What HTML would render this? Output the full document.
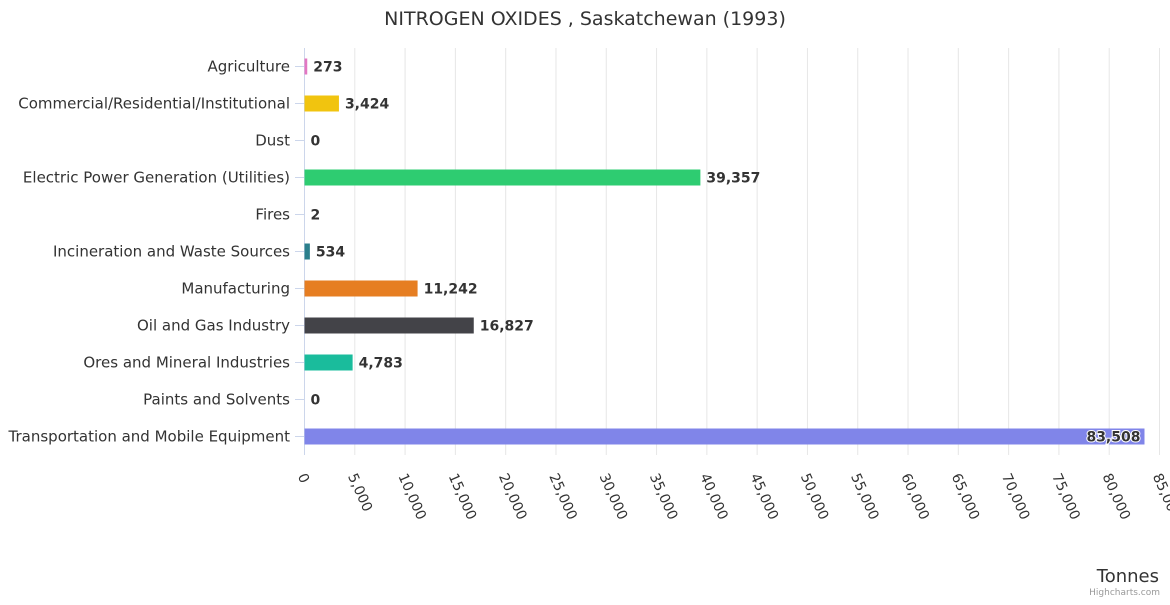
<!DOCTYPE html>
<html><head><meta charset="utf-8"><style>
body{margin:0;background:#fff;font-family:"Liberation Sans","DejaVu Sans",sans-serif}
svg text{font-family:"DejaVu Sans","Liberation Sans",sans-serif}
</style></head><body>
<svg id="c" width="1170" height="600">
<rect width="1170" height="600" fill="#fff"/>
<text x="585" y="25" text-anchor="middle" font-size="19" fill="#333">NITROGEN OXIDES , Saskatchewan (1993)</text>
<g id="grid"></g><g id="bars"></g><g id="xl"></g><g id="yl"></g>
<text x="1159" y="582" text-anchor="end" font-size="18" fill="#333">Tonnes</text>
<text x="1160" y="595" text-anchor="end" font-size="9" fill="#999">Highcharts.com</text>
</svg>
<script>
const categories=["Agriculture","Commercial/Residential/Institutional","Dust","Electric Power Generation (Utilities)","Fires","Incineration and Waste Sources","Manufacturing","Oil and Gas Industry","Ores and Mineral Industries","Paints and Solvents","Transportation and Mobile Equipment"];
const values=[273,3424,0,39357,2,534,11242,16827,4783,0,83508];
const colors=["#e377c2","#f1c40f","#7cb5ec","#2ecc71","#aaaaaa","#2b7f8c","#e67e22","#434348","#1abc9c","#90ed7d","#8085e9"];
const ticks=[0,5000,10000,15000,20000,25000,30000,35000,40000,45000,50000,55000,60000,65000,70000,75000,80000,85000];
const NS="http://www.w3.org/2000/svg";
const x0=304.5,x1=1159.5,xmax=85000,plotTop=48,step=37;
const xs=v=>x0+(x1-x0)*v/xmax;
const yc=i=>plotTop+step*i+18.5;
function mk(t,a,p){const e=document.createElementNS(NS,t);for(const k in a)e.setAttribute(k,a[k]);p.appendChild(e);return e;}
const G=document.getElementById('grid'),B=document.getElementById('bars'),XL=document.getElementById('xl'),YL=document.getElementById('yl');
ticks.forEach(t=>{
 const x=xs(t);
 const l=mk('line',{x1:x,x2:x,y1:plotTop,y2:455,stroke:t==0?'#ccd6eb':'#e6e6e6'},G);
 
 
 const tx=mk('text',{x:0,y:0,'font-size':14,fill:'#333',transform:`translate(${x-7},476) rotate(66)`},XL);
 tx.textContent=t.toLocaleString('en-US');
 
 
});
categories.forEach((c,i)=>{
 const y=yc(i);
 mk('line',{x1:295,x2:304.5,y1:y,y2:y,stroke:'#ccd6eb'},G);
 const lt=mk('text',{x:290,y:y+5,'text-anchor':'end','font-size':15,fill:'#333'},YL);
 lt.textContent=c;
 
 
 const w=Math.max(xs(values[i])-x0,0);
 const r=mk('rect',{x:x0,y:y-8,width:w,height:16,fill:colors[i]},B);
 
 
 const inside=w>700;
 const vt=mk('text',{x:inside?x0+w-4:x0+w+6,y:y+5,'text-anchor':inside?'end':'start','font-size':14,'font-weight':'bold',fill:'#333',stroke:'#fff','stroke-width':inside?2:0,'paint-order':'stroke'},B);
 vt.textContent=values[i].toLocaleString('en-US');
 
 
});
</script>
</body></html>
